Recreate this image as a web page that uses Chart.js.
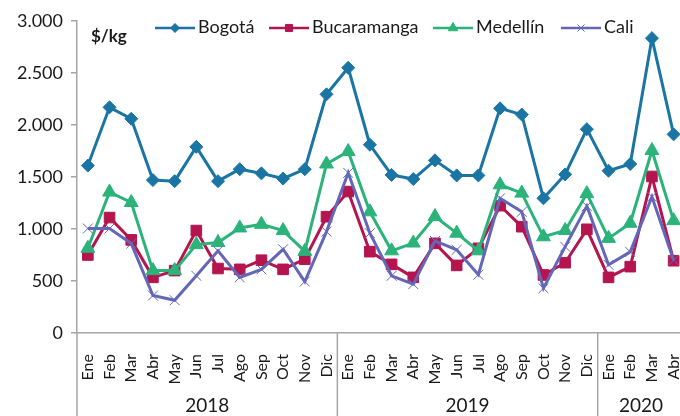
<!DOCTYPE html>
<html><head><meta charset="utf-8">
<script src="https://cdn.jsdelivr.net/npm/chart.js@4.4.1/dist/chart.umd.min.js"></script>
<style>
html,body{margin:0;padding:0;background:#fff;overflow:hidden;}
#wrap{width:706px;height:416px;}
</style></head><body>
<div id="wrap"><canvas id="c" width="706" height="416"></canvas></div>
<script>
const months = ["Ene","Feb","Mar","Abr","May","Jun","Jul","Ago","Sep","Oct","Nov","Dic",
                "Ene","Feb","Mar","Abr","May","Jun","Jul","Ago","Sep","Oct","Nov","Dic",
                "Ene","Feb","Mar","Abr"];
const years = ["2018","2019","2020"];
const yearStarts = [0,12,24];
const yTicks = [0,500,1000,1500,2000,2500,3000];
const unitLabel = "$/kg";
const seriesNames = ["Bogotá","Bucaramanga","Medellín","Cali"];
const bogota      = [1610,2170,2060,1470,1460,1790,1460,1575,1535,1485,1575,2295,2550,1810,1520,1480,1660,1515,1515,2160,2100,1295,1525,1960,1560,1625,2835,1910];
const bucaramanga = [750,1110,895,535,600,985,620,612,700,612,710,1118,1360,782,660,535,862,650,814,1224,1022,558,676,997,535,638,1505,695];
const medellin    = [815,1355,1255,600,600,850,870,1010,1045,985,785,1625,1745,1165,790,865,1120,960,790,1425,1345,925,985,1340,910,1055,1755,1080];
const cali        = [1005,1005,860,360,315,550,790,535,612,805,495,975,1540,960,550,470,885,800,560,1295,1165,430,830,1220,655,780,1310,700];

const FONT = "Lato, 'Open Sans', sans-serif";
const AXIS = "#a6a6a6";
const TXT = "#1a1a1a";
const colors = ["#1a75a4","#b5154f","#2bb37a","#6467b8"];
const styles = ["rectRot","rect","triangle","crossRot"];
const radii = [6.5,7.5,8,7];
const legendR = [4.5,5,5.5,5];

function fmt(v){ return String(v).replace(/\B(?=(\d{3})+(?!\d))/g, "."); }

const decor = {
  id:'decor',
  afterDraw(chart){
    const ctx = chart.ctx, xs = chart.scales.x, ca = chart.chartArea;
    ctx.save();
    ctx.strokeStyle = AXIS; ctx.lineWidth = 1.5;
    const half = (xs.getPixelForValue(1) - xs.getPixelForValue(0)) / 2;
    yearStarts.forEach((s, i) => {
      const bx = s === 0 ? ca.left : xs.getPixelForValue(s) - half;
      ctx.beginPath(); ctx.moveTo(bx, ca.bottom); ctx.lineTo(bx, chart.height); ctx.stroke();
      const e = i + 1 < yearStarts.length ? yearStarts[i+1] - 1 : months.length - 1;
      const cx = (xs.getPixelForValue(s) + xs.getPixelForValue(e)) / 2;
      ctx.fillStyle = TXT; ctx.font = "19px " + FONT;
      ctx.textAlign = "center"; ctx.textBaseline = "alphabetic";
      ctx.fillText(years[i], cx, 412);
    });
    ctx.font = "bold 17px " + FONT; ctx.textAlign = "left"; ctx.fillStyle = TXT;
    ctx.fillText(unitLabel, 91, 42);
    const lx = [155, 269, 433, 561];
    const ly = 28;
    chart.data.datasets.forEach((ds, i) => {
      ctx.strokeStyle = colors[i]; ctx.lineWidth = 2.5;
      ctx.beginPath(); ctx.moveTo(lx[i], ly); ctx.lineTo(lx[i] + 40, ly); ctx.stroke();
      const st = { pointStyle: styles[i], radius: legendR[i], rotation: 0, borderWidth: 1 };
      ctx.fillStyle = colors[i]; ctx.strokeStyle = colors[i]; ctx.lineWidth = 1;
      Chart.helpers.drawPoint(ctx, st, lx[i] + 20, ly);
      ctx.fillStyle = TXT; ctx.font = "18px " + FONT; ctx.textAlign = "left"; ctx.textBaseline = "middle";
      ctx.fillText(seriesNames[i], lx[i] + 43, ly - 1);
    });
    ctx.restore();
  }
};

const data = [bogota, bucaramanga, medellin, cali];
new Chart(document.getElementById('c'), {
  type: 'line',
  data: {
    labels: months,
    datasets: data.map((d, i) => ({
      label: seriesNames[i],
      data: d,
      borderColor: colors[i],
      backgroundColor: colors[i],
      pointBackgroundColor: colors[i],
      pointBorderColor: colors[i],
      pointStyle: styles[i],
      pointRadius: radii[i],
      pointBorderWidth: 1,
      borderWidth: 3,
      tension: 0,
      order: 4 - i
    }))
  },
  options: {
    responsive: false,
    animation: false,
    devicePixelRatio: 1,
    layout: { padding: { top: 21, right: 0, left: 0, bottom: 0 } },
    plugins: { legend: { display: false }, tooltip: { enabled: false } },
    scales: {
      x: {
        offset: true,
        grid: { display: false },
        border: { display: true, color: AXIS, width: 1.5 },
        ticks: { autoSkip: false, minRotation: 90, maxRotation: 90, padding: 13,
                 color: TXT, font: { family: FONT, size: 16 } },
        afterFit(s){ s.height = 83; }
      },
      y: {
        min: 0, max: 3000,
        afterBuildTicks(s){ s.ticks = yTicks.map(v => ({ value: v })); },
        grid: { drawOnChartArea: false, drawTicks: true, tickLength: 6, color: AXIS, lineWidth: 1.5 },
        border: { display: true, color: AXIS, width: 1.5 },
        ticks: { padding: 8, color: TXT, font: { family: FONT, size: 18 }, callback: v => fmt(v) },
        afterFit(s){ s.width = 77; }
      }
    }
  },
  plugins: [decor]
});
</script>
</body></html>
